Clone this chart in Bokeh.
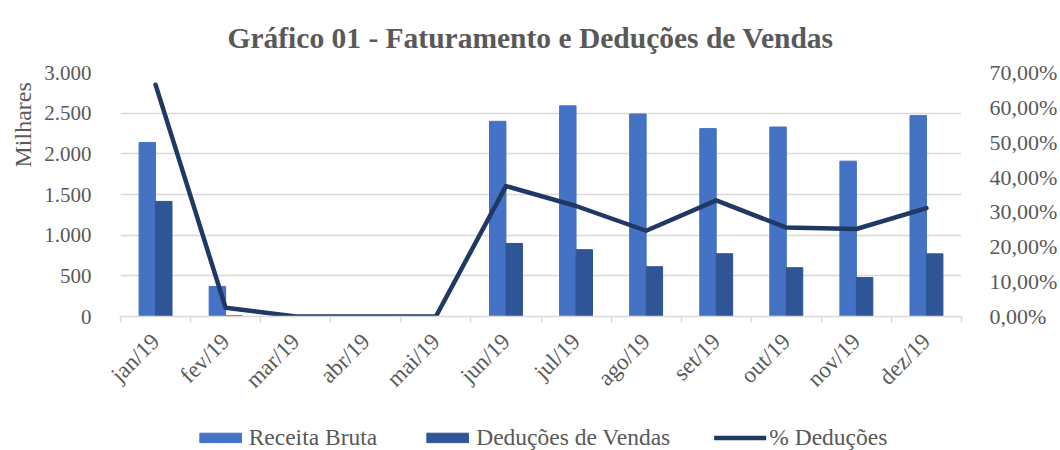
from bokeh.plotting import figure
from bokeh.models import (Range1d, LinearAxis, FixedTicker, ColumnDataSource,
                          Legend, LegendItem, Title)
from bokeh.layouts import column
from bokeh.transform import dodge
from bokeh.embed import file_html
from bokeh.resources import INLINE
import math

months = ["jan/19", "fev/19", "mar/19", "abr/19", "mai/19", "jun/19",
          "jul/19", "ago/19", "set/19", "out/19", "nov/19", "dez/19"]
receita = [2140, 370, 0, 0, 0, 2400, 2590, 2490, 2310, 2330, 1910, 2470]
deducoes = [1415, 9, 0, 0, 0, 898, 822, 612, 772, 600, 480, 770]
pct = [66.5, 2.5, 0, 0, 0, 37.4, 31.7, 24.6, 33.3, 25.5, 25.1, 31.1]
left_ticks = [0, 500, 1000, 1500, 2000, 2500, 3000]
left_labels = ["0", "500", "1.000", "1.500", "2.000", "2.500", "3.000"]
right_ticks = [0, 10, 20, 30, 40, 50, 60, 70]
right_labels = ["0,00%", "10,00%", "20,00%", "30,00%", "40,00%", "50,00%", "60,00%", "70,00%"]

FONT = "Liberation Serif"
GRAY = "#595959"
GRID = "#D9D9D9"
C_REC = "#4472C4"
C_DED = "#2F5597"
C_PCT = "#203864"

src = ColumnDataSource(dict(x=[i + 0.5 for i in range(len(months))],
                            receita=receita, deducoes=deducoes, pct=pct))

p = figure(width=1060, height=424, output_backend="svg", toolbar_location=None,
           x_range=Range1d(0, len(months)), y_range=Range1d(0, 3000),
           min_border_left=120, min_border_right=94, min_border_top=72,
           min_border_bottom=108, x_axis_location=None, y_axis_location=None)
p.outline_line_color = None
p.extra_y_ranges = {"pct": Range1d(0, 70)}

p.title.text = "Gráfico 01 - Faturamento e Deduções de Vendas"
p.title.align = "left"
p.title.offset = 107
p.title.text_font = FONT
p.title.text_font_size = "29.5px"
p.title.text_font_style = "bold"
p.title.text_color = GRAY
p.title.standoff = 37

# x axis
xax = LinearAxis(ticker=FixedTicker(ticks=[i + 0.5 for i in range(len(months))],
                                    minor_ticks=list(range(len(months) + 1))))
xax.major_label_overrides = {i + 0.5: m for i, m in enumerate(months)}
xax.major_label_orientation = math.pi / 4
xax.major_tick_line_color = None
xax.minor_tick_line_color = GRID
xax.minor_tick_line_width = 1.5
xax.minor_tick_in = 0
xax.minor_tick_out = 6
xax.axis_line_color = GRID
xax.axis_line_width = 1.5
xax.major_label_text_font = FONT
xax.major_label_text_font_size = "23px"
xax.major_label_text_color = GRAY
xax.major_label_standoff = 15
p.add_layout(xax, "below")

# left axis
yax = LinearAxis(ticker=FixedTicker(ticks=left_ticks))
yax.major_label_overrides = {t: l for t, l in zip(left_ticks, left_labels)}
yax.axis_line_color = None
yax.major_tick_line_color = None
yax.minor_tick_line_color = None
yax.major_label_text_font = FONT
yax.major_label_text_font_size = "21px"
yax.major_label_text_color = GRAY
yax.major_label_standoff = 23
p.add_layout(yax, "left")

ylab = Title(text="Milhares", align="left", offset=149, text_font=FONT,
             text_font_size="24px", text_font_style="normal", text_color=GRAY,
             standoff=12)
p.add_layout(ylab, "left")

# right axis
rax = LinearAxis(y_range_name="pct", ticker=FixedTicker(ticks=right_ticks))
rax.major_label_overrides = {t: l for t, l in zip(right_ticks, right_labels)}
rax.axis_line_color = None
rax.major_tick_line_color = None
rax.minor_tick_line_color = None
rax.major_label_text_font = FONT
rax.major_label_text_font_size = "22px"
rax.major_label_text_color = GRAY
rax.major_label_standoff = 22
p.add_layout(rax, "right")

# grid
p.ygrid.ticker = FixedTicker(ticks=left_ticks)
p.ygrid.grid_line_color = GRID
p.ygrid.grid_line_width = 1.5
p.xgrid.grid_line_color = None

bw = 0.235


def add_series(fig, source):
    r1 = fig.vbar(x=dodge("x", -bw / 2, range=fig.x_range), top="receita", width=bw,
                  source=source, fill_color=C_REC, line_color=C_REC)
    r2 = fig.vbar(x=dodge("x", bw / 2, range=fig.x_range), top="deducoes", width=bw,
                  source=source, fill_color=C_DED, line_color=C_DED)
    r3 = fig.line(x="x", y="pct", source=source, y_range_name="pct", line_color=C_PCT,
                  line_width=4.5, line_cap="round", line_join="round")
    return r1, r2, r3


add_series(p, src)

# legend strip: a small figure holding only the legend; its copies of the
# series lie far outside its visible ranges, so only the legend shows
pl = figure(width=1060, height=26, output_backend="svg", toolbar_location=None,
            x_range=Range1d(0, len(months)), y_range=Range1d(50000, 60000),
            min_border_left=0, min_border_right=8, min_border_top=0,
            min_border_bottom=0, x_axis_location=None, y_axis_location=None)
pl.extra_y_ranges = {"pct": Range1d(5000, 6000)}
pl.outline_line_color = None
pl.xgrid.grid_line_color = None
pl.ygrid.grid_line_color = None
l1, l2, l3 = add_series(pl, src)

legend = Legend(items=[LegendItem(label="Receita Bruta", renderers=[l1]),
                       LegendItem(label="Deduções de Vendas", renderers=[l2]),
                       LegendItem(label="% Deduções", renderers=[l3])],
                orientation="horizontal", location="center")
legend.label_text_font = FONT
legend.label_text_font_size = "23.5px"
legend.label_text_color = GRAY
legend.glyph_width = 52
legend.glyph_height = 12
legend.label_height = 22
legend.label_standoff = 3
legend.spacing = 44
legend.border_line_color = None
legend.background_fill_alpha = 0
legend.padding = 0
legend.margin = 0
pl.add_layout(legend, "center")

layout = column(p, pl, spacing=0)
open("out.html", "w").write(file_html(layout, INLINE))
